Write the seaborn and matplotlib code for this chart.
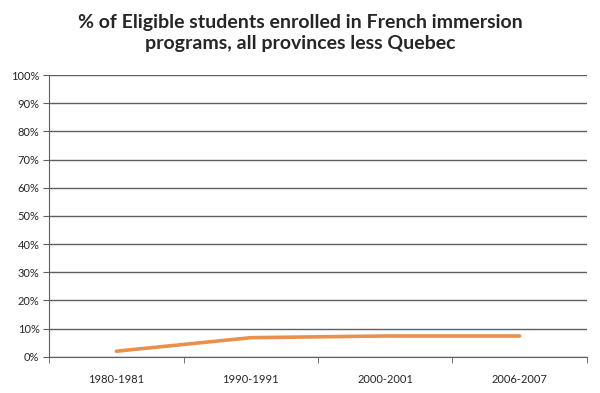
import pandas as pd
import seaborn as sns
import matplotlib.pyplot as plt
from matplotlib.ticker import FixedLocator, PercentFormatter

# values
years = ['1980-1981', '1990-1991', '2000-2001', '2006-2007']
pct_enrolled = [2.0, 6.8, 7.4, 7.4]

df = pd.DataFrame({'year': years, 'pct': pct_enrolled})

sns.set_style('white')
plt.rcParams['font.family'] = ['Lato', 'DejaVu Sans']

fig = plt.figure(figsize=(6, 3.93), dpi=100)
ax = fig.add_axes([0.082, 0.092, 0.896, 0.717])

sns.lineplot(data=df, x='year', y='pct', ax=ax, color='#E8904C', linewidth=2.6, sort=False)

ax.set_ylim(0, 100)
ax.set_yticks(range(0, 101, 10))
ax.yaxis.set_major_formatter(PercentFormatter(decimals=0))
ax.set_xlim(-0.5, len(years) - 0.5)
ax.set_xticks(range(len(years)))
ax.set_xticklabels(years)
ax.xaxis.set_minor_locator(FixedLocator([i - 0.5 for i in range(len(years) + 1)]))

ax.grid(axis='y', color='#5f5f5f', linewidth=1.0)
ax.set_axisbelow(True)
for side in ['top', 'right']:
    ax.spines[side].set_visible(False)
ax.spines['left'].set_color('#5f5f5f')
ax.spines['bottom'].set_color('#5f5f5f')

ax.tick_params(axis='y', which='major', length=4, color='#5f5f5f', labelsize=8, pad=3, left=True)
ax.tick_params(axis='x', which='major', length=0, labelsize=8, pad=12)
ax.tick_params(axis='x', which='minor', length=4, color='#5f5f5f', bottom=True)
ax.set_xlabel('')
ax.set_ylabel('')

fig.suptitle('% of Eligible students enrolled in French immersion\nprograms, all provinces less Quebec',
             y=0.965, fontsize=14, fontweight='bold', linespacing=1.3)

fig.savefig('out.png', dpi=100, facecolor='white')
